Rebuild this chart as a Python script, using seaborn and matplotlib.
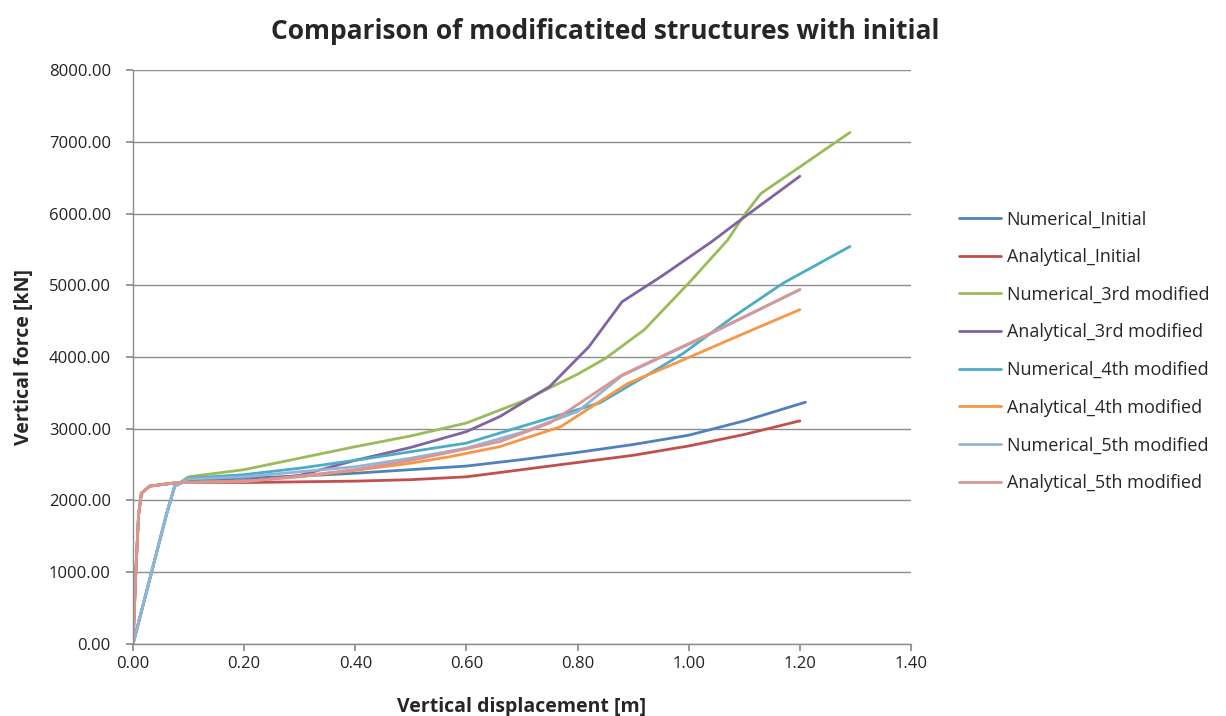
import matplotlib
matplotlib.use("Agg")
import matplotlib.pyplot as plt
import seaborn as sns
import numpy as np

# Displacement [m] / force [kN] pairs for each structure variant
num_init_x = [0.0, 0.02, 0.04, 0.06, 0.075, 0.10, 0.20, 0.30, 0.40, 0.50, 0.60, 0.70, 0.80, 0.90, 1.00, 1.10, 1.21]
num_init_y = [0, 600, 1200, 1800, 2200, 2290, 2310, 2340, 2380, 2430, 2480, 2570, 2670, 2780, 2910, 3110, 3370]

ana_init_x = [0.0, 0.005, 0.01, 0.015, 0.03, 0.08, 0.20, 0.30, 0.40, 0.50, 0.60, 0.70, 0.80, 0.90, 1.00, 1.10, 1.20]
ana_init_y = [0, 1000, 1800, 2100, 2200, 2250, 2250, 2260, 2270, 2290, 2330, 2430, 2530, 2630, 2760, 2920, 3110]

num_3rd_x = [0.0, 0.02, 0.04, 0.06, 0.075, 0.10, 0.20, 0.30, 0.40, 0.50, 0.60, 0.70, 0.80, 0.85, 0.92, 1.00, 1.07, 1.10, 1.13, 1.20, 1.29]
num_3rd_y = [0, 600, 1200, 1800, 2200, 2330, 2430, 2590, 2750, 2900, 3080, 3380, 3760, 3980, 4380, 5030, 5630, 5980, 6280, 6650, 7130]

ana_3rd_x = [0.0, 0.005, 0.01, 0.015, 0.03, 0.08, 0.20, 0.30, 0.40, 0.50, 0.60, 0.66, 0.75, 0.82, 0.88, 0.95, 1.04, 1.10, 1.20]
ana_3rd_y = [0, 1000, 1800, 2100, 2200, 2250, 2270, 2350, 2560, 2740, 2960, 3170, 3590, 4140, 4770, 5120, 5600, 5950, 6520]

num_4th_x = [0.0, 0.02, 0.04, 0.06, 0.075, 0.10, 0.20, 0.30, 0.40, 0.50, 0.60, 0.66, 0.75, 0.84, 0.93, 0.99, 1.08, 1.17, 1.29]
num_4th_y = [0, 600, 1200, 1800, 2200, 2310, 2360, 2450, 2560, 2680, 2800, 2940, 3150, 3360, 3770, 4050, 4560, 5030, 5540]

ana_4th_x = [0.0, 0.005, 0.01, 0.015, 0.03, 0.08, 0.20, 0.30, 0.40, 0.50, 0.57, 0.66, 0.77, 0.89, 0.99, 1.10, 1.20]
ana_4th_y = [0, 1000, 1800, 2100, 2200, 2250, 2270, 2330, 2420, 2520, 2610, 2750, 3030, 3630, 3960, 4330, 4660]

num_5th_x = [0.0, 0.02, 0.04, 0.06, 0.075, 0.10, 0.20, 0.30, 0.40, 0.50, 0.60, 0.70, 0.80, 0.88, 1.02, 1.20]
num_5th_y = [0, 600, 1200, 1800, 2200, 2300, 2330, 2400, 2470, 2590, 2730, 2950, 3240, 3740, 4250, 4940]

ana_5th_x = [0.0, 0.005, 0.01, 0.015, 0.03, 0.08, 0.20, 0.30, 0.40, 0.50, 0.60, 0.66, 0.75, 0.88, 1.02, 1.20]
ana_5th_y = [0, 1000, 1800, 2100, 2200, 2250, 2260, 2340, 2430, 2560, 2720, 2820, 3080, 3750, 4260, 4940]

series = [
    ("Numerical_Initial", num_init_x, num_init_y, "#4F81BD"),
    ("Analytical_Initial", ana_init_x, ana_init_y, "#C0504D"),
    ("Numerical_3rd modified", num_3rd_x, num_3rd_y, "#9BBB59"),
    ("Analytical_3rd modified", ana_3rd_x, ana_3rd_y, "#8064A2"),
    ("Numerical_4th modified", num_4th_x, num_4th_y, "#4BACC6"),
    ("Analytical_4th modified", ana_4th_x, ana_4th_y, "#F79646"),
    ("Numerical_5th modified", num_5th_x, num_5th_y, "#95B3D7"),
    ("Analytical_5th modified", ana_5th_x, ana_5th_y, "#D99694"),
]

sns.set_theme(style="white")
plt.rcParams["font.family"] = ["Open Sans", "DejaVu Sans"]

fig = plt.figure(figsize=(12.26, 7.16), dpi=100)
ax = fig.add_axes([0.1085, 0.1006, 0.6346, 0.8016])

# Later series are drawn over earlier ones
for name, xs, ys, col in series:
    sns.lineplot(x=xs, y=ys, ax=ax, color=col, linewidth=2.0, sort=False,
                 estimator=None, label=name)

xt = np.arange(0, 1.41, 0.2)
yt = np.arange(0, 8001, 1000)
ax.set_xlim(0, 1.4)
ax.set_ylim(0, 8000)
ax.set_xticks(xt)
ax.set_yticks(yt)
ax.set_xticklabels([f"{v:.2f}" for v in xt], fontsize=12, color="#222222")
ax.set_yticklabels([f"{v:.2f}" for v in yt], fontsize=12, color="#222222")
ax.yaxis.grid(True, color="#8c8c8c", linewidth=1.0)
ax.xaxis.grid(False)
for s in ["top", "right"]:
    ax.spines[s].set_visible(False)
for s in ["left", "bottom"]:
    ax.spines[s].set_color("#8c8c8c")
    ax.spines[s].set_linewidth(1.0)
ax.tick_params(axis="both", which="both", direction="out", length=5, color="#8c8c8c",
               bottom=True, left=True)
ax.tick_params(axis="x", pad=4)
ax.tick_params(axis="y", pad=11)

ax.set_xlabel("Vertical displacement [m]", fontsize=14, fontweight="bold")
ax.set_ylabel("Vertical force [kN]", fontsize=14, fontweight="bold")
ax.xaxis.set_label_coords(0.5, -0.092)
ax.yaxis.set_label_coords(-0.127, 0.5)
fig.suptitle("Comparison of modificatited structures with initial", fontsize=19,
             fontweight="bold", x=0.494, y=0.975)

handles, labels = ax.get_legend_handles_labels()
ax.legend(handles, labels, loc="center left", bbox_to_anchor=(1.041, 0.51),
          frameon=False, fontsize=13, handlelength=2.3, labelspacing=1.09,
          handletextpad=0.33)

fig.savefig("out.png", dpi=100)
